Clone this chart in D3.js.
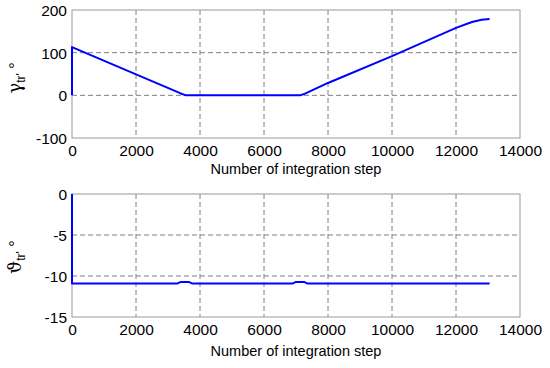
<!DOCTYPE html>
<html>
<head>
<meta charset="utf-8">
<script src="https://cdn.jsdelivr.net/npm/d3@7"></script>
<style>
  body { margin: 0; background: #fff; }
  text { font-family: "Liberation Sans", Arial, sans-serif; fill: #000; }
</style>
</head>
<body>
<div id="chart-area"></div>
<script>
// data
const xTicks = [0, 2000, 4000, 6000, 8000, 10000, 12000, 14000];

const gammaSteps = [0, 0, 3380, 3560, 7125, 7250, 8000, 10000, 12000, 12500, 12800, 13050];
const gammaValues = [0, 113, 5, 0, 0, 3, 29, 92, 158, 172, 177, 179];
const gammaTicks = [-100, 0, 100, 200];

const thetaSteps = [0, 0, 3300, 3400, 3650, 3750, 6900, 7000, 7250, 7350, 13050];
const thetaValues = [0, -10.9, -10.9, -10.72, -10.72, -10.9, -10.9, -10.72, -10.72, -10.9, -10.9];
const thetaTicks = [-15, -10, -5, 0];

const W = 550, H = 368;
const left = 72, right = 520;

const svg = d3.select("#chart-area")
    .append("svg")
    .attr("width", W)
    .attr("height", H);

const x = d3.scaleLinear().domain([0, 14000]).range([left, right]);

// plain hyphen minus like matlab
const fmt = d => String(d);

function panel(top, bottom, yDomain, yTicks, steps, values, symbol, labelY, xLabelY) {
    const y = d3.scaleLinear().domain(yDomain).range([bottom, top]);

    const g = svg.append("g");

    // grid
    g.selectAll(".vgrid")
        .data(xTicks.slice(1, -1))
        .enter().append("line")
        .attr("x1", d => x(d)).attr("x2", d => x(d))
        .attr("y1", top).attr("y2", bottom)
        .attr("stroke", "#808080")
        .attr("stroke-width", 1)
        .attr("stroke-dasharray", "5,3");

    g.selectAll(".hgrid")
        .data(yTicks.slice(1, -1))
        .enter().append("line")
        .attr("y1", d => y(d)).attr("y2", d => y(d))
        .attr("x1", left).attr("x2", right)
        .attr("stroke", "#808080")
        .attr("stroke-width", 1)
        .attr("stroke-dasharray", "5,3");

    // frame
    g.append("rect")
        .attr("x", left).attr("y", top)
        .attr("width", right - left).attr("height", bottom - top)
        .attr("fill", "none")
        .attr("stroke", "#9a9a9a")
        .attr("stroke-width", 1);

    // axes
    const xAxis = g.append("g")
        .attr("transform", "translate(0," + bottom + ")")
        .call(d3.axisBottom(x).tickValues(xTicks).tickSize(0).tickPadding(7).tickFormat(fmt));
    xAxis.select(".domain").remove();
    xAxis.selectAll("text").attr("font-size", "15.5px");

    const yAxis = g.append("g")
        .attr("transform", "translate(" + left + ",0)")
        .call(d3.axisLeft(y).tickValues(yTicks).tickSize(0).tickPadding(5).tickFormat(fmt));
    yAxis.select(".domain").remove();
    yAxis.selectAll("text").attr("font-size", "15.5px").attr("dy", "0.36em");

    // series
    const line = d3.line()
        .x((d, i) => x(steps[i]))
        .y(d => y(d));

    g.append("path")
        .datum(values)
        .attr("d", line)
        .attr("fill", "none")
        .attr("stroke", "#0000ff")
        .attr("stroke-width", 2)
        .attr("stroke-linejoin", "round");

    // x label
    g.append("text")
        .attr("x", (left + right) / 2)
        .attr("y", xLabelY)
        .attr("text-anchor", "middle")
        .attr("font-size", "14.5px")
        .text("Number of integration step");

    // y label
    const yl = g.append("text")
        .attr("transform", "translate(21," + labelY + ") rotate(-90)")
        .attr("text-anchor", "middle")
        .attr("font-size", "16px");
    yl.append("tspan").attr("font-family", "DejaVu Serif").attr("font-size", "18px").text(symbol);
    yl.append("tspan").attr("font-size", "12px").attr("dy", "4").text("tr'");
    yl.append("tspan").attr("dy", "-4").text(" °");
}

panel(10, 138, [-100, 200], gammaTicks, gammaSteps, gammaValues, "γ", 78, 174);
panel(194, 317, [-15, 0], thetaTicks, thetaSteps, thetaValues, "ϑ", 257, 356);
</script>
</body>
</html>
